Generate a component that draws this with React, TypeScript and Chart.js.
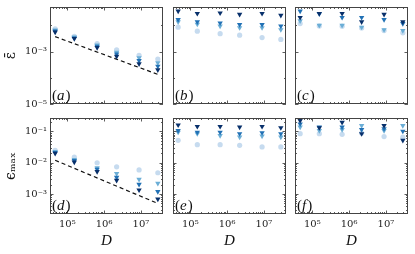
import React, { useEffect, useRef } from 'react';
import { Chart, registerables } from 'chart.js';

Chart.register(...registerables);

// ---------------- data ----------------
const D = [46800, 155000, 646000, 2190000, 8910000, 28800000];
const refD = [46800, 28800000];

const aCircle = [7.4e-3, 3.8e-3, 2.0e-3, 1.17e-3, 7.1e-4, 5.2e-4];
const aLight = [6.6e-3, 3.55e-3, 1.78e-3, 9.3e-4, 5.75e-4, 3.7e-4];
const aMid = [6.0e-3, 3.3e-3, 1.58e-3, 8.1e-4, 4.5e-4, 2.75e-4];
const aDark = [5.5e-3, 3.1e-3, 1.41e-3, 6.6e-4, 3.4e-4, 2.0e-4];
const aRef = [3.7e-3, 1.35e-4];

const bCircle = [0.0085, 0.006, 0.0048, 0.0042, 0.0034, 0.0029];
const bLight = [0.0135, 0.011, 0.0093, 0.0081, 0.0081, 0.0068];
const bMid = [0.0166, 0.0135, 0.0123, 0.0107, 0.0107, 0.0093];
const bDark = [0.0347, 0.0282, 0.0295, 0.0263, 0.0282, 0.024];

const cCircle = [0.0117, 0.0095, 0.0093, 0.0079, 0.0063, 0.0052];
const cLight = [0.0148, 0.01, 0.01, 0.0085, 0.0068, 0.0063];
const cMid = [0.0347, 0.0275, 0.02, 0.02, 0.0166, 0.0117];
const cDark = [0.02, 0.0282, 0.0282, 0.0135, 0.0263, 0.0135];

const dCircle = [0.025, 0.0151, 0.01, 0.0074, 0.0059, 0.0048];
const dLight = [0.0229, 0.0126, 0.0069, 0.0045, 0.00295, 0.0022];
const dMid = [0.0214, 0.0117, 0.0062, 0.0034, 0.00204, 0.0012];
const dDark = [0.02, 0.0105, 0.0052, 0.00275, 0.00135, 0.00069];
const dRef = [0.012, 5.0e-4];

const eCircle = [0.052, 0.038, 0.038, 0.036, 0.032, 0.032];
const eLight = [0.095, 0.085, 0.074, 0.066, 0.071, 0.066];
const eMid = [0.107, 0.095, 0.095, 0.085, 0.091, 0.085];
const eDark = [0.162, 0.145, 0.145, 0.138, 0.145, 0.132];

const fCircle = [0.085, 0.085, 0.081, 0.089, 0.069, 0.066];
const fLight = [0.138, 0.107, 0.115, 0.155, 0.107, 0.155];
const fMid = [0.174, 0.138, 0.138, 0.115, 0.123, 0.102];
const fDark = [0.224, 0.132, 0.195, 0.085, 0.155, 0.052];

// ---------------- axes / ticks ----------------
const X_RANGE = [33900, 39800000];
const TOP_Y_RANGE = [1e-5, 0.05];
const BOT_Y_RANGE = [2.3e-4, 0.27];

const xTickValues = [1e5, 1e6, 1e7];
const xTickLabels = ['10⁵', '10⁶', '10⁷'];
const topTickValues = [1e-5, 1e-3];
const topTickLabels = ['10⁻⁵', '10⁻³'];
const topMinorValues = [1e-4, 1e-2];
const botTickValues = [1e-3, 1e-2, 1e-1];
const botTickLabels = ['10⁻³', '10⁻²', '10⁻¹'];

const COLORS = { dark: '#08306b', mid: '#2171b5', light: '#6baed6', circle: '#c6dbef' };
const SERIF = "'DejaVu Serif', 'Liberation Serif', serif";
const SERIF2 = "'Liberation Serif', 'DejaVu Serif', serif";

function logMinors(min: number, max: number) {
  const out: number[] = [];
  for (let e = Math.floor(Math.log10(min)); e <= Math.ceil(Math.log10(max)); e++) {
    for (let k = 1; k <= 9; k++) {
      const v = k * Math.pow(10, e);
      if (v >= min && v <= max) out.push(v);
    }
  }
  return out;
}

const decoPlugin = {
  id: 'deco',
  afterDraw(chart: any, _args: any, opts: any) {
    const { ctx, chartArea } = chart;
    const { left, right, top, bottom } = chartArea;
    ctx.save();
    ctx.strokeStyle = '#333';
    ctx.lineWidth = 0.8;
    const xs = chart.scales.x;
    const ys = chart.scales.y;
    ctx.beginPath();
    xs.ticks.forEach((t: any) => {
      const p = Math.round(xs.getPixelForValue(t.value)) + 0.5;
      const len = t.major ? 3.5 : 2;
      ctx.moveTo(p, bottom);
      ctx.lineTo(p, bottom - len);
      ctx.moveTo(p, top);
      ctx.lineTo(p, top + len);
    });
    ys.ticks.forEach((t: any) => {
      const p = Math.round(ys.getPixelForValue(t.value)) + 0.5;
      const len = t.major ? 3.5 : 2;
      ctx.moveTo(left, p);
      ctx.lineTo(left + len, p);
      ctx.moveTo(right, p);
      ctx.lineTo(right - len, p);
    });
    ctx.stroke();
    ctx.lineWidth = 1;
    ctx.strokeStyle = '#444';
    ctx.strokeRect(left + 0.5, top + 0.5, right - left - 1, bottom - top - 1);
    // panel label
    if (opts && opts.label) {
      ctx.fillStyle = '#111';
      ctx.textBaseline = 'alphabetic';
      const y = bottom - 4;
      let x = left + 2;
      ctx.font = `15px ${SERIF2}`;
      ctx.fillText('(', x, y);
      x += ctx.measureText('(').width;
      ctx.font = `italic 15px ${SERIF2}`;
      ctx.fillText(opts.label, x, y);
      x += ctx.measureText(opts.label).width + 1;
      ctx.font = `15px ${SERIF2}`;
      ctx.fillText(')', x, y);
    }
    ctx.restore();
  },
};

type Spec = {
  label: string;
  col: number;
  row: number;
  series: number[][]; // dark, mid, light, circle
  ref?: number[];
  yTitle?: string;
};

const PANELS: Spec[] = [
  { label: 'a', col: 0, row: 0, series: [aDark, aMid, aLight, aCircle], ref: aRef, yTitle: 'ε̄' },
  { label: 'b', col: 1, row: 0, series: [bDark, bMid, bLight, bCircle] },
  { label: 'c', col: 2, row: 0, series: [cDark, cMid, cLight, cCircle] },
  { label: 'd', col: 0, row: 1, series: [dDark, dMid, dLight, dCircle], ref: dRef, yTitle: 'ϵₘₐₓ' },
  { label: 'e', col: 1, row: 1, series: [eDark, eMid, eLight, eCircle] },
  { label: 'f', col: 2, row: 1, series: [fDark, fMid, fLight, fCircle] },
];

const AREA_LEFT = [50, 173, 295];
const AREA_W = 113;
const ROW_TOP = [7, 118];
const ROW_H = [97, 96];

function Panel({ spec }: { spec: Spec }) {
  const ref = useRef<HTMLCanvasElement>(null);
  const isLeft = spec.col === 0;
  const isBottom = spec.row === 1;
  const yW = isLeft ? 50 : 4;
  const padRight = 4;
  const xH = isBottom ? 40 : 6;
  const canvasTop = isBottom ? 110 : 0;
  const padTop = ROW_TOP[spec.row] - canvasTop;
  const canvasLeft = AREA_LEFT[spec.col] - yW;
  const w = yW + AREA_W + padRight;
  const h = padTop + ROW_H[spec.row] + xH;

  useEffect(() => {
    const yRange = isBottom ? BOT_Y_RANGE : TOP_Y_RANGE;
    const yMajor = isBottom ? botTickValues : topTickValues;
    const yLabels = isBottom ? botTickLabels : topTickLabels;
    const yAll = isBottom ? logMinors(yRange[0], yRange[1]) : [...topTickValues, ...topMinorValues].sort((p, q) => p - q);
    const xAll = logMinors(X_RANGE[0], X_RANGE[1]);

    const styles = [
      { c: COLORS.dark, s: 'triangle', r: 3.1 },
      { c: COLORS.mid, s: 'triangle', r: 3.1 },
      { c: COLORS.light, s: 'triangle', r: 3.1 },
      { c: COLORS.circle, s: 'circle', r: 2.6 },
    ];
    const datasets: any[] = spec.series.map((vals, i) => ({
      data: D.map((d, k) => ({ x: d, y: vals[k] })),
      backgroundColor: styles[i].c,
      borderColor: styles[i].c,
      borderWidth: 0,
      pointStyle: styles[i].s,
      pointRotation: styles[i].s === 'triangle' ? 180 : 0,
      pointRadius: styles[i].r,
      showLine: false,
    }));
    if (spec.ref) {
      datasets.push({
        data: refD.map((d, k) => ({ x: d, y: spec.ref![k] })),
        showLine: true,
        borderColor: '#111',
        borderWidth: 1.2,
        borderDash: [4, 3],
        pointRadius: 0,
        fill: false,
      });
    }

    const zeroPad = (s: any) => {
      s.paddingTop = 0;
      s.paddingBottom = 0;
      s.paddingLeft = 0;
      s.paddingRight = 0;
    };

    const chart = new Chart(ref.current as HTMLCanvasElement, {
      type: 'scatter',
      data: { datasets },
      options: {
        responsive: false,
        animation: false,
        devicePixelRatio: 1,
        layout: { padding: { top: padTop, right: padRight, left: 0, bottom: 0 } },
        plugins: {
          legend: { display: false },
          tooltip: { enabled: false },
          deco: { label: spec.label },
        } as any,
        scales: {
          x: {
            type: 'logarithmic',
            min: X_RANGE[0],
            max: X_RANGE[1],
            grid: { display: false, drawTicks: false },
            border: { display: false },
            afterBuildTicks: (s: any) => {
              s.ticks = xAll.map((v) => ({ value: v, major: xTickValues.includes(v) }));
            },
            afterFit: (s: any) => {
              s.height = xH;
              zeroPad(s);
            },
            ticks: {
              autoSkip: false,
              maxRotation: 0,
              minRotation: 0,
              padding: 4,
              color: '#222',
              font: { family: SERIF, size: 10 },
              callback: (v: any) => {
                if (!isBottom) return '';
                const i = xTickValues.indexOf(Number(v));
                return i >= 0 ? xTickLabels[i] : '';
              },
            },
            title: {
              display: isBottom,
              text: 'D',
              color: '#111',
              font: { family: SERIF2, size: 15, style: 'italic' },
              padding: { top: 0, bottom: 4 },
            },
          },
          y: {
            type: 'logarithmic',
            min: yRange[0],
            max: yRange[1],
            grid: { display: false, drawTicks: false },
            border: { display: false },
            afterBuildTicks: (s: any) => {
              s.ticks = yAll.map((v) => ({ value: v, major: yMajor.includes(v) }));
            },
            afterFit: (s: any) => {
              s.width = yW;
              zeroPad(s);
            },
            ticks: {
              autoSkip: false,
              padding: 3,
              color: '#222',
              font: { family: SERIF, size: 10 },
              callback: (v: any) => {
                if (!isLeft) return '';
                const i = yMajor.indexOf(Number(v));
                return i >= 0 ? yLabels[i] : '';
              },
            },
            title: {
              display: !!spec.yTitle,
              text: spec.yTitle || '',
              color: '#111',
              font: { family: SERIF, size: 14 },
              padding: { top: 3, bottom: 0 },
            },
          },
        },
      } as any,
      plugins: [decoPlugin as any],
    });
    return () => chart.destroy();
  }, []);

  return (
    <canvas
      ref={ref}
      width={w}
      height={h}
      style={{ position: 'absolute', left: canvasLeft, top: canvasTop, width: w, height: h }}
    />
  );
}

export default function App() {
  return (
    <div style={{ position: 'absolute', left: 0, top: 0, width: 415, height: 254, background: '#fff' }}>
      {PANELS.map((p) => (
        <Panel key={p.label} spec={p} />
      ))}
    </div>
  );
}
